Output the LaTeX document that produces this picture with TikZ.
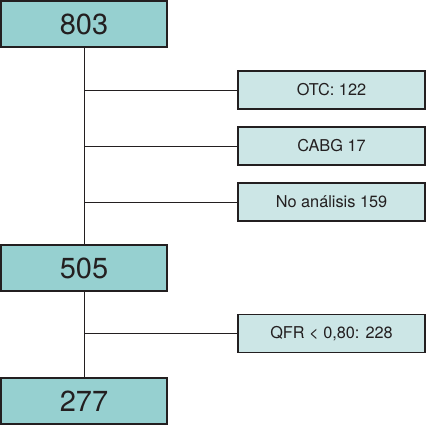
\documentclass[tikz,border=0pt]{standalone}
\usepackage{fontspec}
\setmainfont{TeX Gyre Heros}
\usetikzlibrary{positioning}
\definecolor{mainfill}{HTML}{96D0D0}
\definecolor{sidefill}{HTML}{CCE6E6}
\definecolor{ink}{HTML}{231F20}
\tikzset{
  mainbox/.style = {draw=ink, line width=1.3pt, fill=mainfill, text=ink,
                    minimum width=166pt, minimum height=46pt, inner sep=0pt,
                    font=\fontsize{29}{33}\selectfont},
  sidebox/.style = {draw=ink, line width=1.1pt, fill=sidefill, text=ink,
                    minimum width=187pt, minimum height=38pt, inner sep=0pt,
                    font=\fontsize{16.3}{19}\selectfont},
  wire/.style    = {draw=ink, line width=0.9pt},
}
\begin{document}
\begin{tikzpicture}[x=1pt,y=-1pt]
  \useasboundingbox (0,0) rectangle (426,425);
  \node[mainbox] (n803) at (84,24)  {803};
  \node[mainbox] (n505) at (84,268) {505};
  \node[mainbox] (n277) at (84,401) {277};
  \node[sidebox] (otc)  at (331.5,90)    {OTC: 122};
  \node[sidebox] (cabg) at (331.5,146)   {CABG 17};
  \node[sidebox] (noan) at (331.5,202)   {No análisis 159};
  \node[sidebox] (qfr)  at (331.5,333.5) {QFR < 0,80: 228};
  \draw[wire] (n803) -- (n505); \draw[wire] (n505) -- (n277);
  \draw[wire] (otc.west -| n803)  -- (otc);
  \draw[wire] (cabg.west -| n803) -- (cabg);
  \draw[wire] (noan.west -| n803) -- (noan);
  \draw[wire] (qfr.west -| n505)  -- (qfr);
\end{tikzpicture}
\end{document}
